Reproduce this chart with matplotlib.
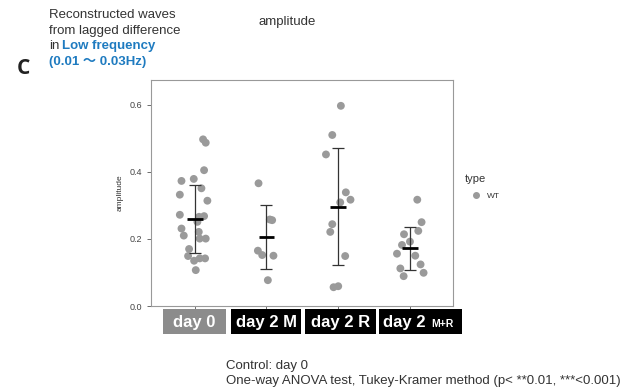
import matplotlib
matplotlib.use("Agg")
import matplotlib.pyplot as plt
from matplotlib.patches import Rectangle

plt.rcParams['font.family'] = ['Liberation Sans', 'Noto Sans CJK JP', 'DejaVu Sans']

# groups and values
groups = ['day 0', 'day 2 M', 'day 2 R', 'day 2 M+R']
day0 = [0.497, 0.487, 0.405, 0.373, 0.379, 0.351, 0.332, 0.314, 0.272, 0.266, 0.268, 0.251,
        0.231, 0.210, 0.221, 0.201, 0.201, 0.170, 0.149, 0.135, 0.142, 0.142, 0.107]
day2m = [0.366, 0.258, 0.256, 0.165, 0.152, 0.150, 0.077]
day2r = [0.597, 0.510, 0.452, 0.339, 0.317, 0.309, 0.244, 0.221, 0.149, 0.056, 0.059]
day2mr = [0.317, 0.250, 0.214, 0.224, 0.182, 0.192, 0.156, 0.150, 0.124, 0.112, 0.089, 0.099]
# horizontal jitter of each point, as seen in the picture
jit0 = [0.116, 0.153, 0.130, -0.185, -0.014, 0.093, -0.208, 0.176, -0.208, 0.06, 0.13, 0.037,
        -0.185, -0.153, 0.056, 0.069, 0.153, -0.079, -0.093, -0.009, 0.069, 0.144, 0.014]
jitm = [-0.111, 0.046, 0.079, -0.120, -0.060, 0.097, 0.019]
jitr = [0.037, -0.083, -0.171, 0.106, 0.171, 0.028, -0.083, -0.111, 0.097, -0.065, 0.0]
jitmr = [0.102, 0.162, -0.083, 0.116, -0.111, 0.0, -0.181, 0.074, 0.148, -0.134, -0.088, 0.190]
means = [0.259, 0.205, 0.296, 0.172]
sds = [0.102, 0.095, 0.175, 0.065]

values = [day0, day2m, day2r, day2mr]
jitters = [jit0, jitm, jitr, jitmr]

fig = plt.figure(figsize=(6.37, 3.88), dpi=100)
ax = fig.add_axes([151 / 637, 1 - 306 / 388, 302 / 637, 226 / 388])

for i, (vals, jit) in enumerate(zip(values, jitters)):
    xs = [i + 1 + j for j in jit]
    ax.scatter(xs, vals, s=32, color='#9a9a9a', edgecolors='none', zorder=2)

pos = range(1, len(groups) + 1)
ax.errorbar(pos, means, yerr=sds, fmt='none', ecolor='#333333', elinewidth=0.9,
            capsize=4, capthick=0.9, zorder=3)
ax.hlines(means, [p - 0.11 for p in pos], [p + 0.11 for p in pos], color='black',
          linewidth=2, zorder=4)

ax.set_xlim(0.39, 4.6)
ax.set_ylim(0, 0.674)
ax.set_yticks([0.0, 0.2, 0.4, 0.6])
ax.set_yticklabels(['0.0', '0.2', '0.4', '0.6'])
ax.set_xticks(list(pos))
ax.set_xticklabels([])
ax.tick_params(axis='both', colors='#555555', labelcolor='#444444', labelsize=6.5,
               length=3, width=0.6)
for s in ax.spines.values():
    s.set_color('#999999')
    s.set_linewidth(0.8)
ax.set_ylabel('amplitude', fontsize=6, color='#333333', labelpad=4)

# label boxes under the x axis
boxes = [(163, 226, '#8c8c8c'), (231, 301, 'black'), (305, 376, 'black'), (379, 462, 'black')]
for k, (x0, x1, c) in enumerate(boxes):
    fig.patches.append(Rectangle((x0 / 637, 1 - 334 / 388), (x1 - x0) / 637, 25 / 388,
                                 transform=fig.transFigure, facecolor=c, edgecolor='none'))
    if k < 3:
        fig.text((x0 + x1) / 2 / 637, 1 - 322 / 388, groups[k], color='white', fontsize=12,
                 fontweight='bold', ha='center', va='center')
fig.text(383 / 637, 1 - 322 / 388, 'day 2', color='white', fontsize=12,
         fontweight='bold', ha='left', va='center')
fig.text(431 / 637, 1 - 324 / 388, 'M+R', color='white', fontsize=7.5,
         fontweight='bold', ha='left', va='center')

# titles and notes
fig.text(49 / 637, 1 - 15 / 388, 'Reconstructed waves', fontsize=9.5, color='#333333',
         va='center')
fig.text(49 / 637, 1 - 31 / 388, 'from lagged difference', fontsize=9.5, color='#333333',
         va='center')
fig.text(49 / 637, 1 - 46 / 388, 'in', fontsize=9.5, color='#333333', va='center')
fig.text(62 / 637, 1 - 46 / 388, 'Low frequency', fontsize=9.5, color='#1f7bc0',
         fontweight='bold', va='center')
fig.text(49 / 637, 1 - 62 / 388, '(0.01 \u301c 0.03Hz)', fontsize=9.5, color='#1f7bc0',
         fontweight='bold', va='center')
fig.text(17 / 637, 1 - 69 / 388, 'C', fontsize=15, fontweight='bold', color='#222222',
         va='center', family=['Open Sans', 'DejaVu Sans'])
fig.text(287 / 637, 1 - 22 / 388, 'amplitude', fontsize=9.5, color='#333333',
         ha='center', va='center')

# legend
fig.text(465 / 637, 1 - 179 / 388, 'type', fontsize=8, color='#333333', va='center')
fig.lines.append(plt.Line2D([476 / 637], [1 - 195 / 388], marker='o', markersize=4,
                            color='#9a9a9a', transform=fig.transFigure))
fig.text(487 / 637, 1 - 196 / 388, 'WT', fontsize=6, color='#333333', va='center')

fig.text(226 / 637, 1 - 366 / 388, 'Control: day 0', fontsize=9.5, color='#333333', va='center')
fig.text(226 / 637, 1 - 381 / 388,
         'One-way ANOVA test, Tukey-Kramer method (p< **0.01, ***<0.001)',
         fontsize=9.5, color='#333333', va='center')

fig.savefig('out.png', dpi=100)
